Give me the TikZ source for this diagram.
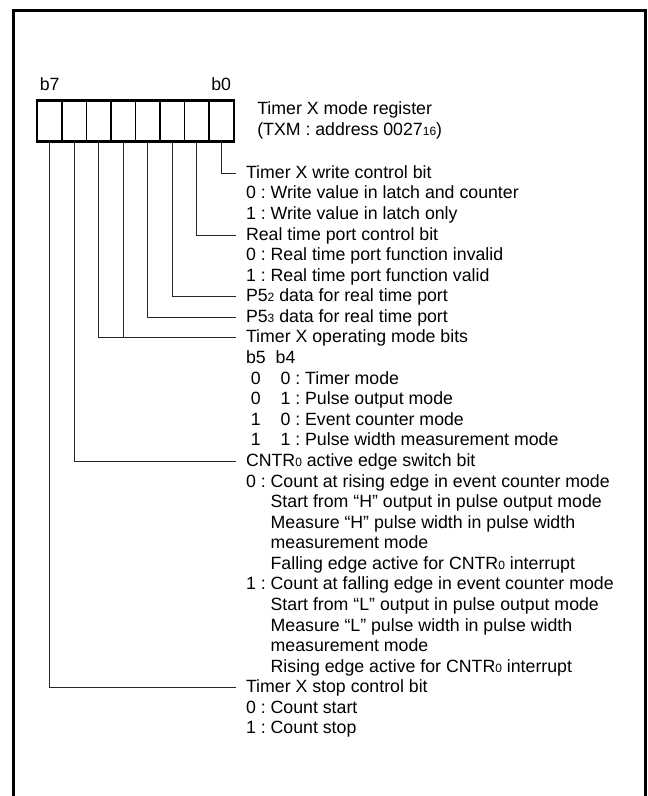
\documentclass[tikz,border=0pt]{standalone}
\usepackage{fontspec}
\setmainfont{Liberation Sans}
\usetikzlibrary{positioning}
\frenchspacing
\newcommand{\smallidx}[1]{{\fontsize{9}{10}\selectfont #1}}
\newcommand{\ind}{\phantom{0 : }}
\newcommand{\col}[2]{\hspace*{0.28em}#1\hspace*{1.11em}#2}

\begin{document}
\begin{tikzpicture}[x=0.75pt, y=-0.75pt,
    cell/.style={rectangle, draw=black, line width=0.9pt, minimum width=18.375pt, minimum height=30pt, inner sep=0pt},
    bitlabel/.style={font=\fontsize{13.3}{15.4}\selectfont, inner sep=0pt},
    txtline/.style={font=\fontsize{13.3}{15.4}\selectfont, anchor=west, inner sep=0pt, outer xsep=7.5pt, text height=7.5pt, text depth=0pt},
    conn/.style={draw=black!85, line width=0.75pt},
  ]
  \useasboundingbox (0,0) rectangle (648,796);
  % frame
  \draw [line width=2.25pt] (13.5,796) -- (13.5,10.5) -- (645,10.5) -- (645,796);
  % register cells, bit 0 on the right
  \foreach \b in {0,...,7}
    \node [cell] (r\b) at ({233.5-24.5*(\b+0.5)},121) {};
  \draw [line width=1.5pt] (r7.north west) rectangle (r0.south east);
  \node [bitlabel, above=7pt of r7] (b7) {b7};
  \node [bitlabel, above=7pt of r0] (b0) {b0};
  \node [bitlabel, align=left, anchor=base west] (title) at (257,135.5) {Timer X mode register\\(TXM : address 0027\smallidx{16})};
  % description lines
  \foreach \txt [count=\n from 0] in {
      Timer X write control bit,
      0 : Write value in latch and counter,
      1 : Write value in latch only,
      Real time port control bit,
      0 : Real time port function invalid,
      1 : Real time port function valid,
      {P5\smallidx{2} data for real time port},
      {P5\smallidx{3} data for real time port},
      Timer X operating mode bits,
      {b5\hspace*{0.56em}b4},
      {\col{0}{0} : Timer mode},
      {\col{0}{1} : Pulse output mode},
      {\col{1}{0} : Event counter mode},
      {\col{1}{1} : Pulse width measurement mode},
      {CNTR\smallidx{0} active edge switch bit},
      0 : Count at rising edge in event counter mode,
      {\ind Start from “H” output in pulse output mode},
      {\ind Measure “H” pulse width in pulse width},
      {\ind measurement mode},
      {\ind Falling edge active for CNTR\smallidx{0} interrupt},
      1 : Count at falling edge in event counter mode,
      {\ind Start from “L” output in pulse output mode},
      {\ind Measure “L” pulse width in pulse width},
      {\ind measurement mode},
      {\ind Rising edge active for CNTR\smallidx{0} interrupt},
      Timer X stop control bit,
      0 : Count start,
      1 : Count stop}
    \node [txtline] (l\n) at (236,{173.3+20.58*\n}) {\txt};
  % bit connectors
  \foreach \b/\n in {0/0,1/3,2/6,3/7,4/8,5/8,6/14,7/25}
    \draw [conn] (r\b.south) |- (l\n.west);
\end{tikzpicture}
\end{document}
